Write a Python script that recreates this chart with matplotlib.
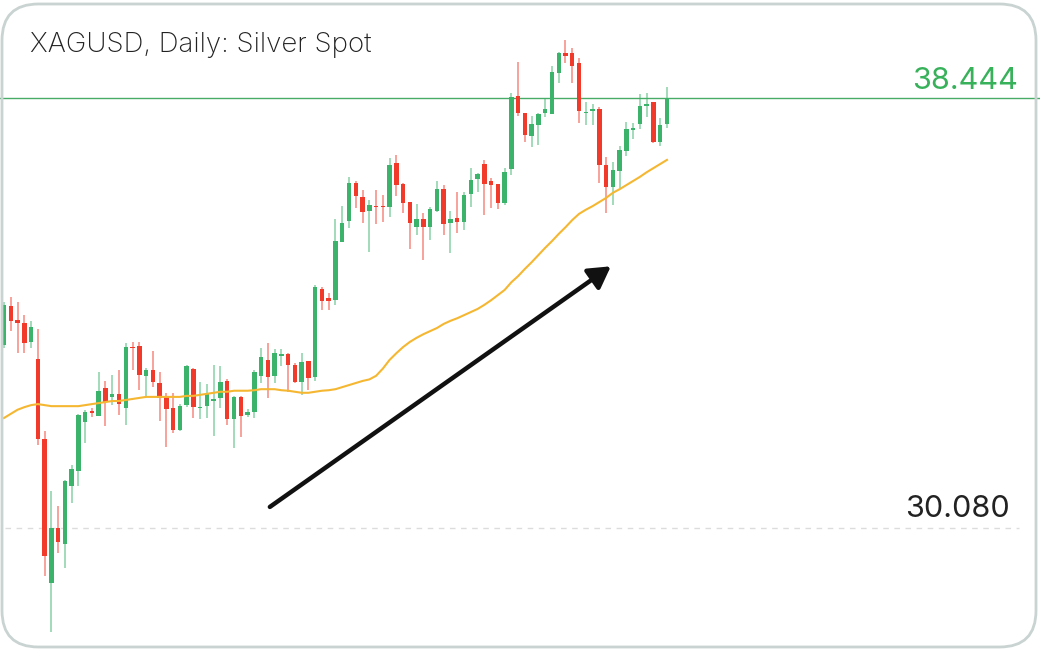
import matplotlib
matplotlib.use("Agg")
import matplotlib.pyplot as plt
from matplotlib.patches import FancyBboxPatch, Rectangle
import numpy as np

opens = [33.64, 34.40, 34.13, 34.07, 33.70, 33.37, 31.81, 29.01, 30.08, 29.77,
         30.90, 31.19, 32.14, 32.36, 32.26, 32.80, 32.63, 32.69, 32.41, 33.60,
         33.62, 33.04, 33.15, 32.90, 32.63, 32.41, 31.99, 32.47, 33.17, 32.41,
         32.45, 32.55, 32.61, 32.94, 32.20, 32.63, 32.28, 32.34, 33.04, 33.35,
         33.04, 33.43, 33.46, 33.25, 32.92, 33.33, 33.02, 34.73, 34.55, 34.51,
         35.64, 36.05, 36.79, 36.52, 36.25, 36.34, 36.34, 36.32, 37.18, 36.77,
         36.42, 35.93, 36.09, 35.93, 36.25, 36.67, 36.01, 36.11, 36.03, 36.58,
         36.87, 37.16, 36.83, 36.77, 36.40, 37.06, 38.48, 38.15, 37.70, 37.92,
         38.15, 38.13, 38.93, 39.32, 39.32, 39.12, 38.15, 38.19, 38.23, 37.14,
         36.71, 37.02, 37.41, 37.82, 37.94, 38.29, 38.37, 37.59, 37.94]
highs = [34.48, 34.57, 34.48, 34.22, 34.11, 33.95, 31.97, 30.80, 30.51, 31.01,
         31.31, 32.30, 32.38, 32.41, 33.11, 32.94, 33.06, 33.15, 33.68, 33.70,
         33.70, 33.19, 33.52, 33.11, 32.71, 32.71, 32.49, 33.25, 33.19, 32.92,
         32.88, 33.25, 33.23, 32.98, 32.65, 32.65, 32.39, 33.15, 33.58, 33.68,
         33.56, 33.56, 33.48, 33.29, 33.48, 33.33, 34.81, 34.77, 34.65, 36.09,
         36.34, 36.91, 36.83, 36.65, 36.46, 36.65, 36.56, 37.28, 37.34, 36.79,
         36.42, 36.38, 36.21, 36.32, 36.83, 36.75, 36.25, 36.62, 36.62, 37.08,
         36.98, 37.24, 36.89, 36.77, 37.08, 38.54, 39.14, 38.15, 38.09, 38.15,
         38.44, 39.07, 39.34, 39.57, 39.42, 39.22, 38.37, 38.33, 38.27, 37.30,
         37.20, 37.51, 37.98, 37.96, 38.52, 38.54, 38.37, 38.05, 38.66]
lows = [33.58, 33.91, 33.48, 33.48, 33.58, 31.69, 29.15, 28.06, 29.59, 29.30,
        30.57, 30.90, 31.73, 32.24, 32.26, 32.06, 32.47, 32.28, 32.08, 33.15,
        32.76, 32.65, 32.82, 32.16, 31.66, 31.93, 31.97, 32.43, 32.22, 32.20,
        32.22, 31.87, 32.41, 32.08, 31.64, 31.85, 32.24, 32.22, 32.90, 32.61,
        32.90, 33.23, 32.73, 32.90, 32.67, 32.76, 32.94, 34.32, 34.32, 34.42,
        35.64, 35.92, 36.30, 36.01, 35.45, 35.99, 36.03, 36.13, 36.54, 36.21,
        35.51, 35.78, 35.29, 35.68, 36.23, 35.78, 35.43, 35.82, 35.88, 36.32,
        36.62, 36.17, 36.30, 36.28, 36.36, 36.95, 38.09, 37.59, 37.49, 37.53,
        38.07, 38.13, 38.74, 39.12, 38.74, 37.96, 37.92, 37.92, 36.79, 36.21,
        36.36, 36.69, 37.32, 37.65, 37.84, 38.07, 37.56, 37.51, 37.86]
closes = [34.42, 34.11, 34.07, 33.68, 33.99, 31.81, 29.54, 30.08, 29.81, 30.99,
          31.23, 32.28, 32.34, 32.32, 32.75, 32.53, 32.69, 32.49, 33.60, 33.58,
          33.06, 33.15, 32.92, 32.61, 32.39, 31.99, 32.45, 33.23, 32.43, 32.43,
          32.71, 32.59, 32.92, 32.20, 32.63, 32.26, 32.34, 33.11, 33.41, 33.02,
          33.48, 33.46, 33.25, 32.92, 33.31, 33.00, 34.77, 34.50, 34.50, 35.66,
          36.01, 36.79, 36.54, 36.23, 36.36, 36.32, 36.32, 37.14, 36.75, 36.40,
          36.01, 36.09, 35.93, 36.28, 36.67, 35.99, 36.09, 36.03, 36.56, 36.85,
          36.97, 36.77, 36.75, 36.40, 37.00, 38.46, 38.15, 37.72, 37.94, 38.13,
          38.23, 38.95, 39.32, 39.26, 39.07, 38.19, 38.17, 38.23, 37.14, 36.71,
          37.04, 37.43, 37.84, 37.86, 38.29, 38.33, 37.59, 37.92, 38.444]
ma = [32.22, 32.30, 32.38, 32.43, 32.47, 32.49, 32.47, 32.45, 32.45, 32.45,
      32.45, 32.45, 32.47, 32.49, 32.51, 32.53, 32.55, 32.55, 32.57, 32.59,
      32.61, 32.63, 32.63, 32.63, 32.63, 32.63, 32.63, 32.65, 32.65, 32.67,
      32.69, 32.71, 32.73, 32.73, 32.75, 32.75, 32.75, 32.76, 32.78, 32.78,
      32.78, 32.76, 32.75, 32.73, 32.71, 32.71, 32.73, 32.75, 32.76, 32.78,
      32.82, 32.86, 32.90, 32.94, 32.97, 33.04, 33.18, 33.35, 33.48, 33.60,
      33.70, 33.78, 33.85, 33.91, 33.97, 34.05, 34.11, 34.16, 34.22, 34.28,
      34.34, 34.42, 34.51, 34.61, 34.71, 34.86, 34.98, 35.12, 35.25, 35.39,
      35.53, 35.66, 35.80, 35.93, 36.07, 36.19, 36.27, 36.34, 36.42, 36.50,
      36.60, 36.67, 36.75, 36.83, 36.91, 37.00, 37.08, 37.16, 37.24]

title = "XAGUSD, Daily: Silver Spot"
current_price = 38.444
support_level = 30.080
arrow_start = (39.3, 30.49)
arrow_end = (89.7, 35.17)

GREEN = "#3cb36b"
RED = "#f23a2a"
LINE_GREEN = "#48ac66"
MA_COLOR = "#f5b731"

W, H = 1040, 650
fig = plt.figure(figsize=(W / 100, H / 100), dpi=100)
fig.patch.set_facecolor("white")

ax = fig.add_axes([0, 0, 1, 1])
ax.set_xlim(-0.591, 153.14)
ax.set_ylim(27.707, 40.350)
ax.axis("off")

n = len(opens)
x = np.arange(n)
body_w = 0.66
for i in range(n):
    o, h, l, c = opens[i], highs[i], lows[i], closes[i]
    col = GREEN if c >= o else RED
    ax.vlines(x[i], l, h, color=col, lw=1.1, alpha=0.6, zorder=2)
    lo, hi = min(o, c), max(o, c)
    if hi - lo < 0.03:
        hi = lo + 0.03
    ax.add_patch(Rectangle((x[i] - body_w / 2, lo), body_w, hi - lo,
                           facecolor=col, edgecolor="none", zorder=3))

ax.plot(x, ma, color=MA_COLOR, lw=1.5, zorder=4)

ytr = ax.get_yaxis_transform()

# current price line
ax.axhline(current_price, color=LINE_GREEN, lw=1.0, zorder=1)
ax.text(0.979, current_price + 0.17, f"{current_price:.3f}", transform=ytr,
        ha="right", va="baseline", fontsize=22, color="#37b15a", family="Inter")

# support level
ax.plot([0.005, 0.98], [support_level, support_level], transform=ytr,
        color="#dcdcdc", lw=1.0, ls=(0, (4, 4)), zorder=1)
ax.text(0.971, support_level + 0.21, f"{support_level:.3f}", transform=ytr,
        ha="right", va="baseline", fontsize=22, color="#222222", family="Inter")

# arrow
ax.annotate("", xy=arrow_end, xytext=arrow_start,
            arrowprops=dict(arrowstyle="-|>,head_length=1.3,head_width=0.75",
                            color="#111111", lw=3.2, shrinkA=0, shrinkB=0),
            zorder=5)

# title
fig.text(30 / W, 1 - 45 / H, title, ha="left", va="center", fontsize=19.9,
         color="#222222", family="Inter", fontweight="light")

# border
fig.patches.append(FancyBboxPatch((2 / W, 3 / H), (W - 6) / W, (H - 7) / H,
                                  boxstyle="round,pad=0,rounding_size=0.035",
                                  transform=fig.transFigure, fill=False,
                                  edgecolor="#c9d3d1", lw=2.0, zorder=10,
                                  mutation_aspect=W / H))

fig.savefig("out.png", dpi=100, facecolor="white")
